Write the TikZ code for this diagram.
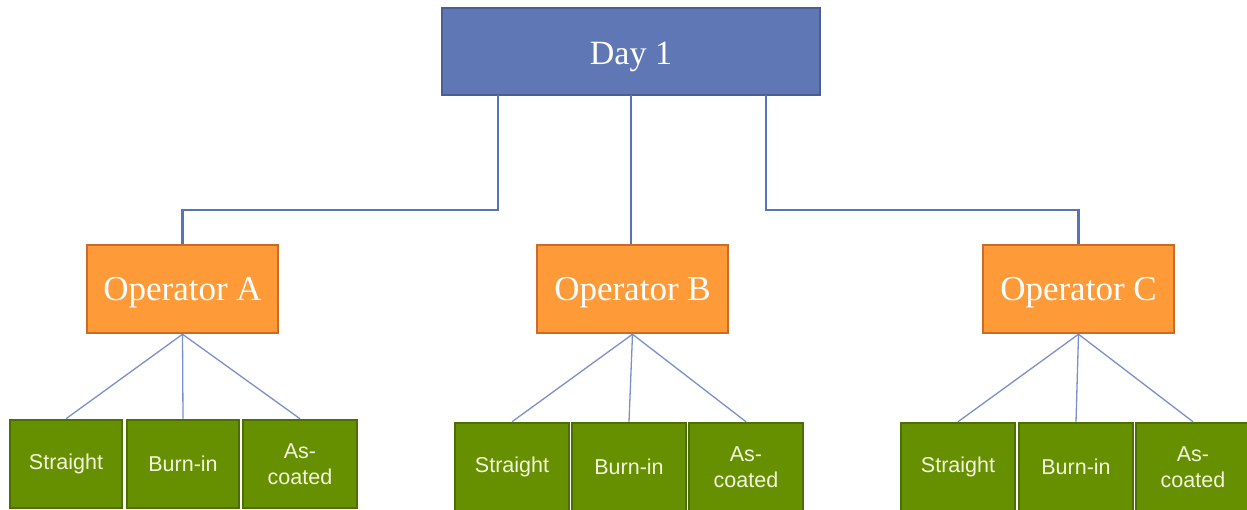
\documentclass[tikz,border=0pt]{standalone}
\usepackage{fontspec}
\setmainfont{Liberation Serif}
\newfontfamily\grsans{Liberation Sans}
\definecolor{dayfill}{HTML}{6077B5}
\definecolor{dayline}{HTML}{4A5E96}
\definecolor{opfill}{HTML}{FF9A38}
\definecolor{opline}{HTML}{CC6A28}
\definecolor{grfill}{HTML}{669000}
\definecolor{grline}{HTML}{4C7000}
\definecolor{grtext}{HTML}{F2F6DE}
\definecolor{conn}{HTML}{5A72B8}
\definecolor{thin}{HTML}{7A8FCC}
\newcommand{\lowered}[2]{\raisebox{-#1}[0pt][0pt]{#2}}
\tikzset{
  daybox/.style={draw=dayline, fill=dayfill, line width=2.5pt, inner sep=0pt,
    minimum width=378pt, minimum height=87pt, text=white,
    font=\fontsize{34}{38}\selectfont},
  opbox/.style={draw=opline, fill=opfill, line width=2.5pt, inner sep=0pt,
    minimum width=191pt, minimum height=88pt, text=white,
    font=\fontsize{35}{40}\selectfont},
  grbox/.style={draw=grline, fill=grfill, line width=2.5pt, inner sep=0pt,
    minimum width=112pt, minimum height=88pt, text=grtext, align=center,
    font=\grsans\fontsize{21.5}{26}\selectfont},
  elbow/.style={draw=conn, line width=2.6pt},
  leg/.style={draw=thin, line width=1.3pt}
}
\begin{document}
\begin{tikzpicture}[x=1pt,y=-1pt]
\useasboundingbox (0,0) rectangle (1247,510);
\clip (0,0) rectangle (1247,510);
\coordinate (dl) at (498,95);
\coordinate (dm) at (631,95);
\coordinate (dr) at (766,95);
% nodes
\node[daybox] (day) at (631,51.5) {\lowered{13pt}{Day 1}};
\node[opbox] (oa) at (182.5,289) {\lowered{12pt}{Operator A}};
\node[opbox] (ob) at (632.5,289) {\lowered{12pt}{Operator B}};
\node[opbox] (oc) at (1078.5,289) {\lowered{12pt}{Operator C}};
\node[grbox] (sa) at (66,464) {Straight};
\node[grbox] (ba) at (183,464) {Burn-in};
\node[grbox, minimum width=114pt] (ca) at (300,464) {As-\\coated};
\node[grbox, minimum width=114pt] (sb) at (512,467) {Straight};
\node[grbox, minimum width=114pt] (bb) at (629,467) {Burn-in};
\node[grbox, minimum width=114pt] (cb) at (746,467) {As-\\coated};
\node[grbox, minimum width=114pt] (sc) at (958,467) {Straight};
\node[grbox, minimum width=114pt] (bc) at (1076,467) {Burn-in};
\node[grbox, minimum width=114pt] (cc) at (1193,467) {As-\\coated};
% elbow connectors
\draw[elbow] (dl) -- ++(0,115) -| (oa.north);
\draw[elbow] (dm) -- (dm |- ob.north);
\draw[elbow] (dr) -- ++(0,115) -| (oc.north);
% legs
\foreach \p/\c in {oa/sa, oa/ba, oa/ca, ob/sb, ob/bb, ob/cb, oc/sc, oc/bc, oc/cc}{
  \draw[leg] (\p.south) -- (\c.north);
}
\end{tikzpicture}
\end{document}
